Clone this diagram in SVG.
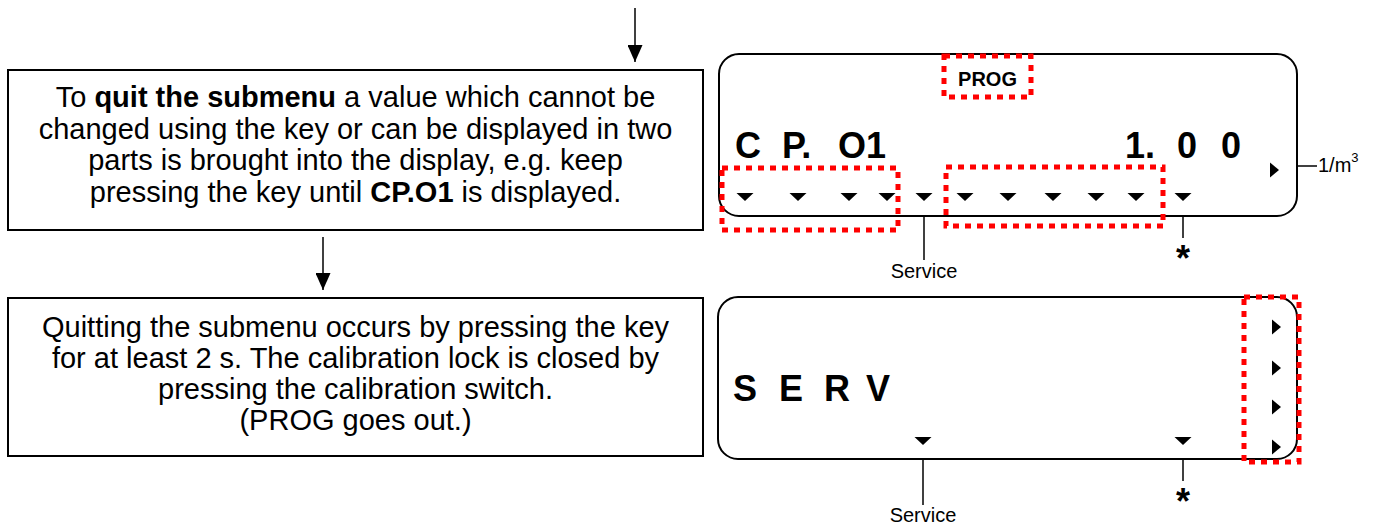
<svg xmlns="http://www.w3.org/2000/svg" width="1373" height="526" viewBox="0 0 1373 526">
<style>
.box{fill:#fff;stroke:#000;stroke-width:2}
.disp{fill:#fff;stroke:#000;stroke-width:2}
.txt{font-family:"Liberation Sans",Arial,sans-serif;font-size:29px;fill:#000;text-anchor:middle}
.b{font-weight:bold}
.seg{font-family:"Liberation Sans",Arial,sans-serif;font-size:36px;font-weight:bold;fill:#000}
.lbl{font-family:"Liberation Sans",Arial,sans-serif;font-size:20px;fill:#000}
.star{font-family:"Liberation Sans",Arial,sans-serif;font-size:36px;font-weight:bold;fill:#000;text-anchor:middle}
.red{fill:none;stroke:#ff0000;stroke-width:5;stroke-dasharray:6 6}
.ln{stroke:#000;stroke-width:1.5;fill:none}
.tri{fill:#000}
</style>
<defs>
<marker id="ah" markerWidth="17" markerHeight="15" refX="17" refY="7.5" orient="auto" markerUnits="userSpaceOnUse" viewBox="0 0 17 15">
<path d="M0,0 L17,7.5 L0,15 Z" fill="#000"/>
</marker>
<path id="dn" d="M-8.5,0 L8.5,0 L0,8 Z"/>
<path id="rt" d="M0,-7.5 L9,0 L0,7.5 Z"/>
</defs>

<g id="connectors">
<line class="ln" x1="635" y1="8" x2="635" y2="62" marker-end="url(#ah)"/>
<line class="ln" x1="323" y1="237" x2="323" y2="290" marker-end="url(#ah)"/>
</g>

<g id="box-quit">
<rect class="box" x="8" y="70" width="695" height="160"/>
<text class="txt" x="355.5" y="107">To <tspan class="b">quit the submenu</tspan> a value which cannot be</text>
<text class="txt" x="355.5" y="138.5">changed using the key or can be displayed in two</text>
<text class="txt" x="355.5" y="170">parts is brought into the display, e.g. keep</text>
<text class="txt" x="355.5" y="201.5">pressing the key until <tspan class="b">CP.O1</tspan> is displayed.</text>
</g>

<g id="box-quitting">
<rect class="box" x="8" y="298" width="695" height="158"/>
<text class="txt" x="355.5" y="337">Quitting the submenu occurs by pressing the key</text>
<text class="txt" x="355.5" y="368">for at least 2 s. The calibration lock is closed by</text>
<text class="txt" x="355.5" y="399">pressing the calibration switch.</text>
<text class="txt" x="355.5" y="430">(PROG goes out.)</text>
</g>

<g id="display-cp01">
<rect class="disp" x="719" y="54" width="578" height="162" rx="20" ry="20"/>
<rect class="red" x="944" y="56" width="87" height="41"/>
<text x="987.5" y="86" style="font-family:'Liberation Sans',Arial,sans-serif;font-size:20px;font-weight:bold;text-anchor:middle">PROG</text>
<text class="seg" x="735" y="158">C</text>
<text class="seg" x="782" y="158">P.</text>
<text class="seg" x="838" y="158">O1</text>
<text class="seg" x="1125" y="158">1.</text>
<text class="seg" x="1177" y="158">0</text>
<text class="seg" x="1221" y="158">0</text>
<use href="#rt" class="tri" x="1270" y="170"/>
<line class="ln" x1="1297" y1="166" x2="1317" y2="166"/>
<text class="lbl" x="1318" y="172">1/m<tspan dy="-10" style="font-size:13px">3</tspan></text>
<g class="tri">
<use href="#dn" x="745" y="193"/>
<use href="#dn" x="798" y="193"/>
<use href="#dn" x="849" y="193"/>
<use href="#dn" x="887" y="193"/>
<use href="#dn" x="924" y="193"/>
<use href="#dn" x="965" y="193"/>
<use href="#dn" x="1008" y="193"/>
<use href="#dn" x="1053" y="193"/>
<use href="#dn" x="1096" y="193"/>
<use href="#dn" x="1136" y="193"/>
<use href="#dn" x="1183" y="193"/>
</g>
<rect class="red" x="722" y="168" width="176" height="62"/>
<rect class="red" x="946" y="167" width="217" height="59"/>
<line class="ln" x1="924" y1="216" x2="924" y2="260"/>
<text class="lbl" x="924" y="278" text-anchor="middle">Service</text>
<line class="ln" x1="1183" y1="216" x2="1183" y2="238"/>
<text class="star" x="1183" y="271">*</text>
</g>

<g id="display-serv">
<rect class="disp" x="718" y="297" width="579" height="162" rx="20" ry="20"/>
<text class="seg" x="733" y="401">S</text>
<text class="seg" x="779" y="401">E</text>
<text class="seg" x="824" y="401">R</text>
<text class="seg" x="866" y="401">V</text>
<g class="tri">
<use href="#dn" x="923" y="437"/>
<use href="#dn" x="1183" y="437"/>
<use href="#rt" x="1272" y="327"/>
<use href="#rt" x="1272" y="368"/>
<use href="#rt" x="1272" y="407"/>
<use href="#rt" x="1272" y="447"/>
</g>
<rect class="red" x="1244" y="297" width="55" height="165"/>
<line class="ln" x1="923" y1="459" x2="923" y2="505"/>
<text class="lbl" x="923" y="522" text-anchor="middle">Service</text>
<line class="ln" x1="1183" y1="459" x2="1183" y2="481"/>
<text class="star" x="1183" y="514">*</text>
</g>
</svg>
